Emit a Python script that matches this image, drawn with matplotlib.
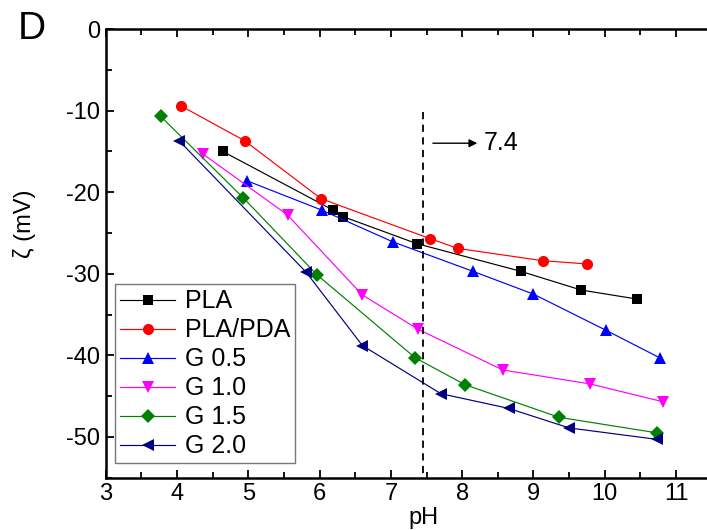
import matplotlib
matplotlib.use("Agg")
import matplotlib.pyplot as plt
from matplotlib.ticker import MultipleLocator

plt.rcParams['font.family'] = ['Liberation Sans', 'DejaVu Sans']

pla_x = [4.64, 6.19, 6.33, 7.36, 8.82, 9.67, 10.45]
pla_y = [-15.0, -22.2, -23.0, -26.3, -29.7, -32.0, -33.1]

pda_x = [4.05, 4.95, 6.02, 7.55, 7.94, 9.13, 9.75]
pda_y = [-9.4, -13.7, -20.8, -25.7, -26.9, -28.4, -28.8]

g05_x = [4.98, 6.03, 7.03, 8.15, 9.00, 10.01, 10.77]
g05_y = [-18.6, -22.2, -26.1, -29.7, -32.5, -36.9, -40.3]

g10_x = [4.36, 5.55, 6.60, 7.38, 8.57, 9.79, 10.82]
g10_y = [-15.3, -22.8, -32.6, -36.8, -41.8, -43.5, -45.7]

g15_x = [3.77, 4.93, 5.96, 7.34, 8.04, 9.36, 10.73]
g15_y = [-10.7, -20.7, -30.1, -40.3, -43.6, -47.6, -49.5]

g20_x = [4.03, 5.81, 6.60, 7.70, 8.65, 9.50, 10.73]
g20_y = [-13.7, -29.8, -38.8, -44.7, -46.5, -48.9, -50.3]

series = [
    ("PLA", pla_x, pla_y, "black", "s", 7),
    ("PLA/PDA", pda_x, pda_y, "red", "o", 8),
    ("G 0.5", g05_x, g05_y, "blue", "^", 9),
    ("G 1.0", g10_x, g10_y, "magenta", "v", 9),
    ("G 1.5", g15_x, g15_y, "green", "D", 7),
    ("G 2.0", g20_x, g20_y, "navy", "<", 9),
]

W, H = 707, 530
fig = plt.figure(figsize=(W / 100, H / 100), dpi=100)
ax = fig.add_axes([105.7 / W, 1 - 477.7 / H, 8.5 * 71.3 / W, (477.7 - 29) / H])

for name, xs, ys, c, m, ms in series:
    ax.plot(xs, ys, color=c, marker=m, markersize=ms, linewidth=0.85,
            markeredgewidth=0, label=name)

ax.set_xlim(3, 11.5)
ax.set_ylim(-55, 0)
ax.xaxis.set_major_locator(MultipleLocator(1))
ax.xaxis.set_minor_locator(MultipleLocator(0.5))
ax.yaxis.set_major_locator(MultipleLocator(10))
ax.yaxis.set_minor_locator(MultipleLocator(5))
ax.tick_params(which='both', direction='in', top=True, right=False,
               labelsize=17, width=1.3, pad=4)
ax.tick_params(which='major', length=6)
ax.tick_params(which='minor', length=4)
for s in ax.spines.values():
    s.set_linewidth(1.8)

ax.set_yticklabels([f"{int(v)}" for v in ax.get_yticks()])

# dashed vertical line at pH ~7.4
ax.plot([7.45, 7.45], [-10.2, -55], color='black', linestyle=(0, (4, 3)),
        linewidth=1.3)
ax.annotate("", xy=(8.25, -14.0), xytext=(7.55, -14.0),
            arrowprops=dict(arrowstyle='-|>', color='black', lw=1.0,
                            mutation_scale=12))
ax.text(8.3, -14.0, "7.4", fontsize=18, va='center', ha='left')

fig.text(423 / W, 1 - 524 / H, "pH", fontsize=17, ha='center', va='baseline')
fig.text(25 / W, 1 - 224 / H, "ζ (mV)", rotation=90, fontsize=17,
         ha='center', va='center')
fig.text(18 / W, 1 - 29 / H, "D", fontsize=28, ha='left', va='center')

leg = ax.legend(loc='upper left', bbox_to_anchor=(115 / W, 1 - 284.3 / H),
                bbox_transform=fig.transFigure, borderaxespad=0,
                fontsize=18, numpoints=1, handlelength=2.2,
                labelspacing=0.2, handletextpad=0.4, borderpad=0.2,
                fancybox=False, framealpha=1)
leg.get_frame().set_edgecolor('#777777')
leg.get_frame().set_linewidth(1.0)

fig.savefig("out.png", dpi=100)
